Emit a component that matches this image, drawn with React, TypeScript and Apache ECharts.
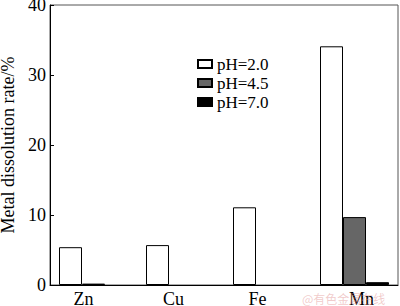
import React, { useEffect, useRef } from "react";
import * as echarts from "echarts";

const categories = ["Zn", "Cu", "Fe", "Mn"];
const seriesNames = ["pH=2.0", "pH=4.5", "pH=7.0"];
const ph20 = [5.4, 5.7, 11.1, 34.1];
const ph45 = [0.2, null, null, 9.7];
const ph70 = [null, null, null, 0.4];
const yTicks = { min: 0, max: 40, interval: 10 };
const colors = ["#ffffff", "#666666", "#000000"];
const labelShift = [-20, -14, -20, 14];

export default function App() {
  const ref = useRef<HTMLDivElement>(null);
  useEffect(() => {
    if (!ref.current) return;
    const chart = echarts.init(ref.current, null, { renderer: "svg" });
    const font = "Liberation Serif";
    const values = [ph20, ph45, ph70];
    chart.setOption({
      animation: false,
      backgroundColor: "#ffffff",
      textStyle: { fontFamily: font, color: "#000" },
      grid: { left: 50, right: 2, top: 5, bottom: 21, containLabel: false, outerBoundsMode: "none" },
      legend: {
        orient: "vertical",
        left: 197,
        top: 55,
        padding: 0,
        itemWidth: 14,
        itemHeight: 8,
        itemGap: 1,
        icon: "rect",
        textStyle: { fontFamily: font, fontSize: 17, lineHeight: 18, color: "#000" },
        data: seriesNames,
      },
      xAxis: {
        type: "category",
        data: categories.map((c, i) => ({
          value: c,
          textStyle: {
            padding: [0, labelShift[i] < 0 ? -labelShift[i] : 0, 0, labelShift[i] > 0 ? labelShift[i] : 0],
          },
        })),
        axisLine: { show: true, lineStyle: { color: "#000", width: 1 } },
        axisTick: { show: false },
        axisLabel: { fontFamily: font, fontSize: 18, color: "#000", margin: 5 },
        splitLine: { show: false },
      },
      yAxis: {
        type: "value",
        min: yTicks.min,
        max: yTicks.max,
        interval: yTicks.interval,
        name: "Metal dissolution rate/%",
        nameLocation: "middle",
        nameGap: 28,
        nameTextStyle: { fontFamily: font, fontSize: 18, color: "#000" },
        axisLine: { show: true, lineStyle: { color: "#000", width: 1 } },
        axisTick: { show: true, inside: true, length: 4, lineStyle: { color: "#000" } },
        axisLabel: { fontFamily: font, fontSize: 18, color: "#000", margin: 4 },
        splitLine: { show: false },
      },
      graphic: [
        {
          type: "rect",
          shape: { x: 50, y: 5, width: 348, height: 280 },
          style: { fill: "none", stroke: "#555", lineWidth: 1 },
          silent: true,
          z: -1,
        },
        {
          type: "text",
          x: 302,
          y: 292,
          style: {
            text: "@有色金属在线",
            font: "12px 'Noto Sans CJK SC'",
            fill: "rgba(225,140,140,0.45)",
          },
          silent: true,
          z: 100,
        },
      ],
      series: seriesNames.map((name, i) => ({
        name,
        type: "bar",
        data: values[i],
        barWidth: 23,
        barGap: "0%",
        itemStyle: { color: colors[i], borderColor: "#000", borderWidth: 1 },
      })),
    });
    return () => chart.dispose();
  }, []);
  return <div ref={ref} style={{ width: 400, height: 306, position: "absolute", left: 0, top: 0 }} />;
}
